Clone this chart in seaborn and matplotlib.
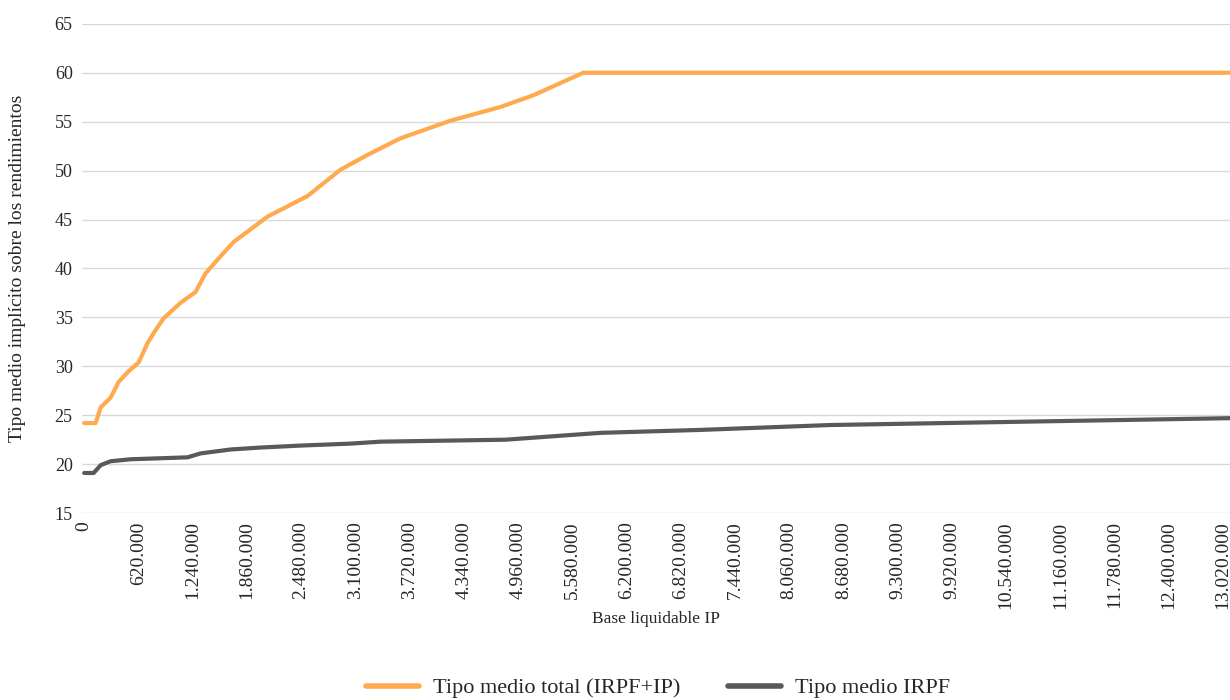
import pandas as pd
import matplotlib.pyplot as plt
import matplotlib.ticker as mticker
import seaborn as sns

# Datos (base liquidable en euros, tipos en %)
base_total = [0, 131000, 189000, 303000, 394000, 497000, 623000, 726000, 817000,
              908000, 1103000, 1274000, 1388000, 1525000, 1708000, 2097000, 2554000,
              2931000, 3239000, 3616000, 4188000, 4759000, 5136000, 5707000, 13100000]
tipo_total = [24.2, 24.2, 25.8, 26.8, 28.4, 29.4, 30.4, 32.4, 33.7,
              34.9, 36.5, 37.6, 39.5, 40.9, 42.7, 45.3, 47.4,
              50.1, 51.6, 53.3, 55.1, 56.5, 57.7, 60.0, 60.0]

base_irpf = [0, 109000, 189000, 303000, 531000, 1183000, 1331000, 1674000, 2017000,
             2474000, 3045000, 3388000, 4816000, 5901000, 7044000, 8530000,
             10472000, 13100000]
tipo_irpf = [19.1, 19.1, 19.9, 20.3, 20.5, 20.7, 21.1, 21.5, 21.7,
             21.9, 22.1, 22.3, 22.5, 23.2, 23.5, 24.0,
             24.3, 24.7]

series = ["Tipo medio total (IRPF+IP)", "Tipo medio IRPF"]
colores = ["#FFAA4F", "#595959"]
xticks = list(range(0, 13020001, 620000))

df = pd.concat([
    pd.DataFrame({"base": base_total, "tipo": tipo_total, "serie": series[0]}),
    pd.DataFrame({"base": base_irpf, "tipo": tipo_irpf, "serie": series[1]}),
])

sns.set_theme(style="white")
plt.rcParams["font.family"] = ["Liberation Serif", "DejaVu Serif"]

fig = plt.figure(figsize=(12.3, 7), dpi=100)
ax = fig.add_axes([0.067, 0.267, 0.933, 0.699])

sns.lineplot(data=df, x="base", y="tipo", hue="serie", hue_order=series,
             palette=colores, linewidth=3, ax=ax, legend=False)

ax.set_xlim(-20000, 13100000)
ax.set_ylim(15, 65)
ax.set_yticks(range(15, 66, 5))
ax.set_xticks(xticks)
ax.xaxis.set_major_formatter(mticker.FuncFormatter(lambda v, p: f"{int(v):,}".replace(",", ".")))
ax.tick_params(axis="x", labelrotation=90, labelsize=14, colors="#262626", length=0, pad=6)
ax.tick_params(axis="y", labelsize=13, colors="#262626", length=0, pad=7)
ax.grid(axis="y", color="#d9d9d9", linewidth=1)
ax.set_axisbelow(True)
for s in ax.spines.values():
    s.set_visible(False)

ax.set_xlabel("Base liquidable IP", fontsize=12.5, color="#262626")
ax.set_ylabel("Tipo medio implícito sobre los rendimientos", fontsize=14, color="#262626")
ax.xaxis.set_label_coords(0.5, -0.217)
ax.yaxis.set_label_coords(-0.0566, 0.5)
ax.xaxis.label.set_va("center")
ax.yaxis.label.set_va("center")

handles = [plt.Line2D([], [], color=c, linewidth=4) for c in colores]
fig.legend(handles, series, loc="center", bbox_to_anchor=(0.535, 0.017), ncol=2,
           frameon=False, fontsize=16, handlelength=2.4, columnspacing=2.1,
           handletextpad=0.65)

plt.savefig("out.png", dpi=100)
plt.close()
